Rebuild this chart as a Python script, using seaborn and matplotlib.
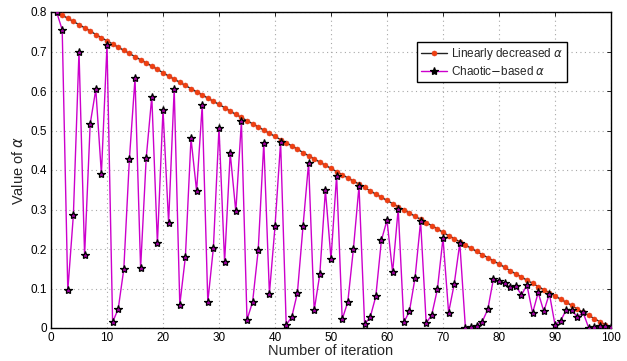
import matplotlib
matplotlib.use("Agg")
import matplotlib.pyplot as plt
import seaborn as sns
import pandas as pd

iterations = list(range(1, 101))

linear_alpha = [
    0.800, 0.792, 0.784, 0.776, 0.768, 0.760, 0.752, 0.743, 0.735, 0.727,
    0.719, 0.711, 0.703, 0.695, 0.687, 0.679, 0.671, 0.663, 0.655, 0.646,
    0.638, 0.630, 0.622, 0.614, 0.606, 0.598, 0.590, 0.582, 0.574, 0.566,
    0.558, 0.549, 0.541, 0.533, 0.525, 0.517, 0.509, 0.501, 0.493, 0.485,
    0.477, 0.469, 0.461, 0.453, 0.444, 0.436, 0.428, 0.420, 0.412, 0.404,
    0.396, 0.388, 0.380, 0.372, 0.364, 0.356, 0.347, 0.339, 0.331, 0.323,
    0.315, 0.307, 0.299, 0.291, 0.283, 0.275, 0.267, 0.259, 0.251, 0.242,
    0.234, 0.226, 0.218, 0.210, 0.202, 0.194, 0.186, 0.178, 0.170, 0.162,
    0.154, 0.145, 0.137, 0.129, 0.121, 0.113, 0.105, 0.097, 0.089, 0.081,
    0.073, 0.065, 0.057, 0.048, 0.040, 0.032, 0.024, 0.016, 0.008, 0.000,
]

chaotic_alpha = [
    0.800, 0.755, 0.095, 0.287, 0.700, 0.184, 0.517, 0.604, 0.390, 0.716,
    0.015, 0.048, 0.149, 0.428, 0.632, 0.151, 0.430, 0.586, 0.214, 0.552,
    0.267, 0.605, 0.059, 0.180, 0.480, 0.347, 0.564, 0.066, 0.203, 0.507,
    0.167, 0.443, 0.295, 0.523, 0.021, 0.066, 0.197, 0.469, 0.087, 0.257,
    0.471, 0.008, 0.028, 0.089, 0.257, 0.418, 0.045, 0.136, 0.349, 0.175,
    0.386, 0.022, 0.066, 0.200, 0.359, 0.010, 0.027, 0.080, 0.222, 0.273,
    0.141, 0.302, 0.014, 0.042, 0.126, 0.270, 0.012, 0.034, 0.098, 0.228,
    0.039, 0.111, 0.215, 0.001, 0.002, 0.006, 0.016, 0.047, 0.124, 0.118,
    0.113, 0.103, 0.106, 0.084, 0.108, 0.038, 0.090, 0.042, 0.087, 0.008,
    0.018, 0.046, 0.046, 0.027, 0.040, 0.001, 0.003, 0.004, 0.006, 0.003,
]

x_ticks = [0, 10, 20, 30, 40, 50, 60, 70, 80, 90, 100]
y_ticks = [0, 0.1, 0.2, 0.3, 0.4, 0.5, 0.6, 0.7, 0.8]
y_tick_labels = ["0", "0.1", "0.2", "0.3", "0.4", "0.5", "0.6", "0.7", "0.8"]

sns.set_theme(style="white")
plt.rcParams["font.family"] = ["Liberation Sans", "DejaVu Sans"]
plt.rcParams["mathtext.fontset"] = "dejavusans"

df = pd.DataFrame({"iter": iterations, "linear": linear_alpha, "chaotic": chaotic_alpha})

fig = plt.figure(figsize=(6.27, 3.61), dpi=100)
ax = fig.add_axes([51 / 627, 33 / 361, 560 / 627, 316 / 361])

sns.lineplot(data=df, x="iter", y="linear", ax=ax, color="#222222", linewidth=1.0,
             marker="o", markersize=3.6, markerfacecolor="#f04010", markeredgecolor="#e03818",
             markeredgewidth=0.4, label=r"Linearly decreased $\alpha$", zorder=3)
sns.lineplot(data=df, x="iter", y="chaotic", ax=ax, color="#cc00cc", linewidth=1.0,
             marker="*", markersize=6, markerfacecolor="#a000a0", markeredgecolor="black",
             markeredgewidth=0.9, label=r"Chaotic$-$based $\alpha$", zorder=4)

ax.set_xlim(0, 100)
ax.set_ylim(0, 0.8)
ax.set_xticks(x_ticks)
ax.set_yticks(y_ticks)
ax.set_yticklabels(y_tick_labels)
ax.tick_params(direction="in", length=3, width=0.6, labelsize=8.5, colors="black", pad=3,
               top=True, right=True)
ax.grid(True, linestyle=(0, (1, 3)), color="#a8a8a8", linewidth=0.8)
for s in ax.spines.values():
    s.set_color("black")
    s.set_linewidth(1.0)

ax.set_xlabel("Number of iteration", fontsize=10.5, labelpad=0)
ax.set_ylabel(r"Value of $\alpha$", fontsize=10.5, labelpad=3)

leg = ax.legend(loc="upper left", bbox_to_anchor=(0.643, 0.925), fontsize=8.5,
                frameon=True, fancybox=False, edgecolor="black", framealpha=1,
                handlelength=2.2, handletextpad=0.3, borderpad=0.35, labelspacing=0.3)
leg.get_frame().set_linewidth(1.0)
leg.legend_handles[1].set_markerfacecolor("black")

fig.savefig("out.png", dpi=100)
